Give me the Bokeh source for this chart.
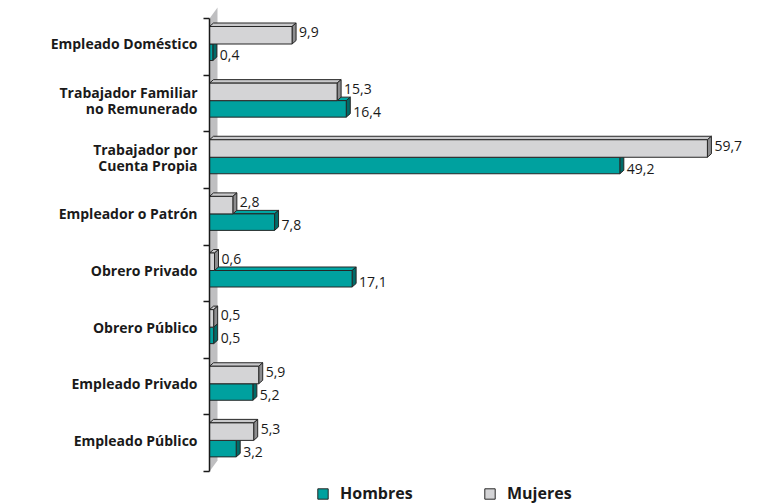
from bokeh.plotting import figure
from bokeh.models import Range1d, FixedTicker, ColumnDataSource, Legend, LegendItem
from bokeh.core.properties import value
from bokeh.embed import file_html
from bokeh.resources import INLINE

# ---- data ----
categories = [
    "Empleado Doméstico",
    "Trabajador Familiar\nno Remunerado",
    "Trabajador por\nCuenta Propia",
    "Empleador o Patrón",
    "Obrero Privado",
    "Obrero Público",
    "Empleado Privado",
    "Empleado Público",
]
mujeres = [9.9, 15.3, 59.7, 2.8, 0.6, 0.5, 5.9, 5.3]
hombres = [0.4, 16.4, 49.2, 7.8, 17.1, 0.5, 5.2, 3.2]
series_names = ["Hombres", "Mujeres"]

# ---- layout constants (pixels) ----
W, H = 759, 503
LEFT = 209
TOP_TICK = 18
BOTTOM_TICK = 471
n = len(categories)
py = (BOTTOM_TICK - TOP_TICK) / n       # px per category unit
px = 8.34                               # px per value unit
y_start = -(H - BOTTOM_TICK) / py
y_end = n + TOP_TICK / py
x_end = (W - LEFT) / px

TEAL, TEAL_TOP, TEAL_SIDE = "#00a19f", "#00a6a4", "#006b69"
GRAY, GRAY_TOP, GRAY_SIDE = "#d4d4d6", "#c9c9cb", "#8d8d8f"
EDGE = "#262626"
TXT = "#1a1a1a"
FONT = "Open Sans"

p = figure(width=W, height=H, x_range=Range1d(0, x_end), y_range=Range1d(y_start, y_end),
           x_axis_location=None, y_axis_location="left", toolbar_location=None,
           output_backend="svg", min_border_left=LEFT, min_border_right=0,
           min_border_top=0, min_border_bottom=0, outline_line_color=None)
p.grid.visible = False

# ---- back wall ----
dxw, dyw = 8 / px, 11 / py
p.patch(x=[0, dxw, dxw, 0], y=[0, dyw, n + dyw, n], fill_color="#bfbfc1", line_color=None)

# ---- bars ----
dx, dy = 4 / px, 3.5 / py
shift = 2.8 / py
hg, ht = 17.5 / py, 16.5 / py

def build(vals, top_of, bot_of):
    front = dict(left=[], right=[], top=[], bottom=[])
    tops = dict(xs=[], ys=[])
    sides = dict(xs=[], ys=[])
    for i, v in enumerate(vals):
        t, b = top_of(i), bot_of(i)
        front["left"].append(0); front["right"].append(v)
        front["top"].append(t); front["bottom"].append(b)
        tops["xs"].append([0, v, v + dx, dx]); tops["ys"].append([t, t, t + dy, t + dy])
        sides["xs"].append([v, v, v + dx, v + dx]); sides["ys"].append([b, t, t + dy, b + dy])
    return front, tops, sides

div = lambda i: n - i - 0.5 + shift
renderers = {}
for name, vals, col, ctop, cside, top_of, bot_of in [
    ("Hombres", hombres, TEAL, TEAL_TOP, TEAL_SIDE, lambda i: div(i), lambda i: div(i) - ht),
    ("Mujeres", mujeres, GRAY, GRAY_TOP, GRAY_SIDE, lambda i: div(i) + hg, lambda i: div(i)),
]:
    front, tops, sides = build(vals, top_of, bot_of)
    p.patches(xs="xs", ys="ys", source=ColumnDataSource(tops), fill_color=ctop, line_color=EDGE, line_width=1)
    p.patches(xs="xs", ys="ys", source=ColumnDataSource(sides), fill_color=cside, line_color=EDGE, line_width=1)
    renderers[name] = p.quad(left="left", right="right", top="top", bottom="bottom",
                             source=ColumnDataSource(front), fill_color=col, line_color=EDGE, line_width=1)

# ---- value labels ----
fmt = lambda v: f"{v:.1f}".replace(".", ",")
p.text(x=mujeres, y=[div(i) + hg / 2 for i in range(n)], text=[fmt(v) for v in mujeres],
       x_offset=7, y_offset=-3, text_baseline="middle", text_align="left",
       text_font=value(FONT), text_font_size="14px", text_color=TXT)
p.text(x=hombres, y=[div(i) - ht / 2 for i in range(n)], text=[fmt(v) for v in hombres],
       x_offset=7, y_offset=3, text_baseline="middle", text_align="left",
       text_font=value(FONT), text_font_size="14px", text_color=TXT)

# ---- axis ----
ax = p.yaxis[0]
centers = [round(n - i - 0.5 + 0.05, 4) for i in range(n)]
ax.ticker = FixedTicker(ticks=centers, minor_ticks=list(range(n + 1)))
ax.major_label_overrides = {c: lab for c, lab in zip(centers, categories)}
ax.bounds = (0, n)
ax.major_tick_line_color = None
ax.major_tick_out = 0
ax.major_tick_in = 0
ax.minor_tick_out = 6
ax.minor_tick_in = 0
ax.minor_tick_line_color = TXT
ax.minor_tick_line_width = 1.5
ax.axis_line_color = TXT
ax.axis_line_width = 1.5
ax.major_label_standoff = 6
ax.major_label_text_font = FONT
ax.major_label_text_font_style = "bold"
ax.major_label_text_font_size = "14px"
ax.major_label_text_line_height = 0.82
ax.major_label_text_color = TXT

# ---- legend ----
legend = Legend(items=[LegendItem(label=s, renderers=[renderers[s]]) for s in series_names],
                orientation="horizontal", location=(107, -1), glyph_width=13, glyph_height=13,
                label_standoff=11, label_width=143, spacing=0, padding=0, margin=0,
                border_line_color=None, background_fill_alpha=0,
                label_text_font=FONT, label_text_font_style="bold",
                label_text_font_size="16px", label_text_color=TXT)
p.add_layout(legend, "center")

open("out.html", "w").write(file_html(p, INLINE))
